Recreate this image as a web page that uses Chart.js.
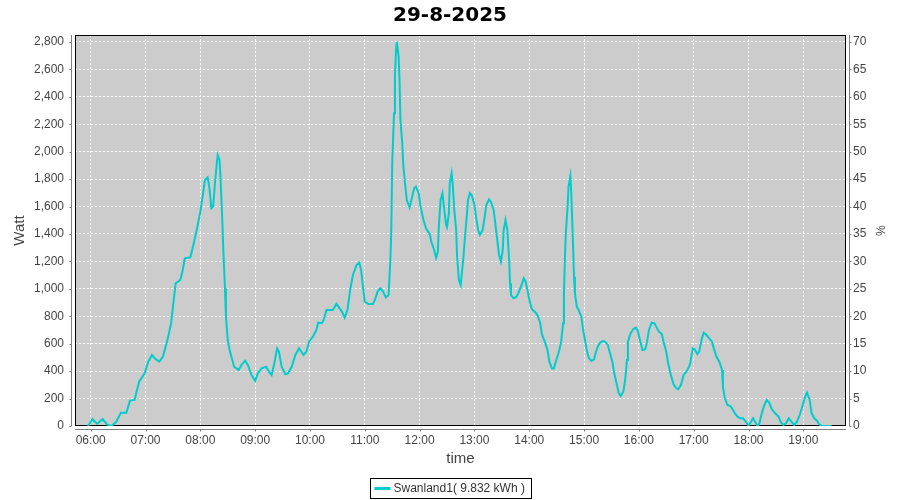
<!DOCTYPE html>
<html>
<head>
<meta charset="utf-8">
<title>29-8-2025</title>
<script src="https://cdn.jsdelivr.net/npm/chart.js@4.4.1/dist/chart.umd.min.js"></script>
<style>
  html, body { margin: 0; padding: 0; background: #fff; }
  canvas { display: block; }
</style>
</head>
<body>
<canvas id="chart" width="900" height="500"></canvas>
<script>
const chartTitle = '29-8-2025';
const seriesName = 'Swanland1( 9.832 kWh )';
const hourLabels = ['06:00', '07:00', '08:00', '09:00', '10:00', '11:00', '12:00',
    '13:00', '14:00', '15:00', '16:00', '17:00', '18:00', '19:00'];

const times = [
    '05:57', '06:02', '06:07', '06:13', '06:18', '06:23', '06:28', '06:33', '06:39', '06:43', '06:48', '06:53', '06:59',
    '07:03', '07:07', '07:10', '07:15', '07:19', '07:24', '07:28', '07:30', '07:33', '07:38', '07:40', '07:43', '07:49', '07:52', '07:56',
    '08:00', '08:03', '08:05', '08:08', '08:10', '08:12', '08:14', '08:16', '08:18', '08:19', '08:21', '08:22', '08:24', '08:25', '08:27', '08:28',
    '08:30', '08:32', '08:34', '08:37', '08:42', '08:45', '08:49', '08:52', '08:56',
    '09:00', '09:03', '09:07', '09:12', '09:15', '09:18', '09:21', '09:24', '09:26', '09:29', '09:33', '09:36', '09:40', '09:44', '09:48', '09:53', '09:56', '09:59',
    '10:04', '10:07', '10:09', '10:13', '10:15', '10:18', '10:25', '10:29', '10:35', '10:38', '10:41', '10:44', '10:47', '10:51', '10:54', '10:56', '10:58',
    '11:00', '11:04', '11:09', '11:11', '11:14', '11:17', '11:20', '11:23', '11:26', '11:28', '11:29', '11:30', '11:32', '11:33', '11:34', '11:35', '11:37',
    '11:38', '11:39', '11:41', '11:42', '11:44', '11:46', '11:49', '11:51', '11:54', '11:56', '11:59',
    '12:01', '12:04', '12:07', '12:11', '12:13', '12:16', '12:18', '12:20', '12:21', '12:23', '12:25', '12:27', '12:29', '12:30', '12:32', '12:33', '12:35',
    '12:36', '12:38', '12:40', '12:41', '12:43', '12:45', '12:46', '12:48', '12:50', '12:52', '12:53', '12:55', '12:57',
    '13:00', '13:02', '13:04', '13:06', '13:09', '13:11', '13:13', '13:16', '13:18', '13:21', '13:23', '13:25', '13:27', '13:29', '13:31', '13:32', '13:34',
    '13:36', '13:38', '13:39', '13:40', '13:43', '13:46', '13:48', '13:51', '13:54', '13:56', '13:58',
    '14:01', '14:03', '14:06', '14:09', '14:12', '14:14', '14:17', '14:20', '14:22', '14:25', '14:27', '14:29', '14:32', '14:35', '14:37', '14:38', '14:39',
    '14:40', '14:42', '14:43', '14:45', '14:46', '14:47', '14:48', '14:49', '14:50', '14:52', '14:54', '14:57', '14:59',
    '15:01', '15:03', '15:05', '15:08', '15:11', '15:13', '15:15', '15:17', '15:20', '15:23', '15:26', '15:28', '15:31', '15:33', '15:36', '15:38', '15:40',
    '15:43', '15:45', '15:47', '15:48', '15:51', '15:54', '15:57', '15:59',
    '16:02', '16:04', '16:07', '16:09', '16:11', '16:14', '16:17', '16:20', '16:22', '16:25', '16:27', '16:30', '16:32', '16:35', '16:38', '16:41', '16:43',
    '16:46', '16:49', '16:52', '16:54', '16:56', '16:59',
    '17:01', '17:04', '17:06', '17:09', '17:11', '17:14', '17:17', '17:20', '17:22', '17:25', '17:28', '17:31', '17:32', '17:34', '17:37', '17:40', '17:42',
    '17:45', '17:48', '17:51', '17:54', '17:57',
    '18:00', '18:02', '18:05', '18:07', '18:10', '18:12', '18:14', '18:17', '18:20', '18:23', '18:25', '18:29', '18:33', '18:35', '18:38', '18:41', '18:44',
    '18:47', '18:50', '18:53', '18:56', '18:59',
    '19:02', '19:04', '19:07', '19:09', '19:12', '19:15', '19:17', '19:20', '19:31'
];

const watts = [
    0, 51, 15, 51, 10, 0, 32, 97, 97, 185, 190, 323, 384,
    469, 518, 494, 469, 505, 627, 749, 870, 1040, 1065, 1113, 1223, 1230, 1308, 1429,
    1563, 1697, 1794, 1813, 1733, 1588, 1600, 1770, 1915, 1976, 1940, 1818, 1502, 1308, 1000, 800,
    627, 554, 505, 432, 408, 445, 476, 445, 372,
    330, 384, 420, 432, 396, 372, 457, 566, 542, 432, 377, 384, 432, 518, 566, 518, 542, 615,
    660, 700, 753, 749, 773, 846, 846, 890, 834, 790, 846, 992, 1101, 1174, 1191, 1137, 1016,
    906, 890, 890, 919, 980, 1004, 980, 938, 955, 1210, 1429, 1915, 2280, 2547, 2717, 2802, 2693,
    2523, 2231, 2061, 1915, 1770, 1648, 1594, 1648, 1733, 1745, 1697,
    1599, 1507, 1441, 1400, 1340, 1283, 1225, 1271, 1453, 1648, 1697, 1575, 1466, 1449, 1551, 1770, 1843,
    1782, 1575, 1429, 1235, 1065, 1028, 1101, 1235, 1405, 1563, 1648, 1697, 1684,
    1611, 1514, 1429, 1393, 1429, 1514, 1611, 1653, 1636, 1575, 1466, 1356, 1247, 1198, 1283, 1429, 1502,
    1429, 1210, 1040, 955, 931, 943, 968, 1016, 1077, 1052, 992,
    895, 851, 834, 809, 749, 664, 615, 554, 469, 420, 420, 469, 530, 615, 749, 968, 1210,
    1405, 1599, 1745, 1823, 1697, 1502, 1308, 1089, 968, 870, 846, 797, 700,
    627, 554, 498, 474, 486, 542, 578, 603, 620, 615, 591, 542, 469, 384, 299, 238, 219,
    250, 335, 481, 615, 676, 707, 717, 688,
    603, 554, 560, 615, 700, 753, 749, 712, 688, 671, 615, 542, 457, 372, 304, 275, 268,
    299, 372, 396, 420, 450, 566,
    559, 525, 542, 639, 680, 664, 639, 615, 566, 505, 469, 408, 287, 202, 153, 146, 129,
    93, 68, 56, 56, 32,
    2, 24, 56, 32, 0, 20, 80, 146, 190, 165, 129, 93, 68, 32, 7, 20, 56,
    32, 7, 32, 80, 146,
    214, 243, 190, 93, 56, 39, 15, 0, 0
];

// axis ranges (minutes since midnight / watt / percent)
const timeMin = 342.8;
const timeMax = 1186.7;
const wattMax = 2851;
const wattStep = 200;
const pctMax = wattMax / 40;
const pctStep = 5;

const toMinutes = t => {
    const [h, m] = t.split(':').map(Number);
    return h * 60 + m;
};
const fmtHour = v => String(Math.floor(v / 60)).padStart(2, '0') + ':' + String(Math.round(v % 60)).padStart(2, '0');

const points = times.map((t, i) => ({ x: toMinutes(t), y: watts[i] }));

const tickFont = { family: '"Liberation Sans", Arial, sans-serif', size: 12 };
const axisGrey = '#808080';
const labelGrey = '#444444';

// keep only round multiples of the step (drops the bound tick at max)
const keepSteps = step => scale => {
    scale.ticks = scale.ticks.filter(t => Math.abs(t.value / step - Math.round(t.value / step)) < 1e-6);
};

const plotFrame = {
    id: 'plotFrame',
    beforeDraw(chart) {
        const { ctx, chartArea: a } = chart;
        ctx.save();
        ctx.fillStyle = '#ffffff';
        ctx.fillRect(0, 0, chart.width, chart.height);
        ctx.fillStyle = '#cccccc';
        ctx.fillRect(a.left, a.top, a.right - a.left, a.bottom - a.top);
        ctx.restore();
    },
    beforeDatasetsDraw(chart) {
        const { ctx, chartArea: a } = chart;
        ctx.save();
        ctx.strokeStyle = '#000000';
        ctx.lineWidth = 1;
        ctx.strokeRect(a.left + 0.5, a.top + 0.5, a.right - a.left - 1, a.bottom - a.top - 1);
        ctx.restore();
    },
    afterDraw(chart) {
        const { ctx, chartArea: a, scales } = chart;
        ctx.save();
        ctx.strokeStyle = axisGrey;
        ctx.lineWidth = 1;
        ctx.beginPath();
        // left axis line + ticks
        const lx = a.left - 3.5;
        ctx.moveTo(lx, a.top); ctx.lineTo(lx, a.bottom);
        scales.y.ticks.forEach(t => {
            const py = Math.round(scales.y.getPixelForValue(t.value)) + 0.5;
            ctx.moveTo(lx - 2, py); ctx.lineTo(lx, py);
        });
        // right axis line + ticks
        const rx = a.right + 3.5;
        ctx.moveTo(rx, a.top); ctx.lineTo(rx, a.bottom);
        scales.y1.ticks.forEach(t => {
            const py = Math.round(scales.y1.getPixelForValue(t.value)) + 0.5;
            ctx.moveTo(rx, py); ctx.lineTo(rx + 2, py);
        });
        // bottom axis line + ticks
        const by = a.bottom + 3.5;
        ctx.moveTo(a.left, by); ctx.lineTo(a.right, by);
        scales.x.ticks.forEach(t => {
            const px = Math.round(scales.x.getPixelForValue(t.value)) + 0.5;
            ctx.moveTo(px, by); ctx.lineTo(px, by + 2);
        });
        ctx.stroke();

        // legend box
        ctx.font = '12px "Liberation Sans", Arial, sans-serif';
        const tw = ctx.measureText(seriesName).width;
        const boxW = Math.round(tw + 30);
        const boxH = 20;
        const bx = Math.round(chart.width / 2 - boxW / 2) + 0.5;
        const bY = chart.height - 22 + 0.5;
        ctx.strokeStyle = '#000000';
        ctx.strokeRect(bx, bY, boxW, boxH);
        ctx.strokeStyle = '#00cccc';
        ctx.lineWidth = 3;
        ctx.beginPath();
        ctx.moveTo(bx + 4, bY + 10);
        ctx.lineTo(bx + 20, bY + 10);
        ctx.stroke();
        ctx.fillStyle = '#333333';
        ctx.textBaseline = 'middle';
        ctx.textAlign = 'left';
        ctx.fillText(seriesName, bx + 23, bY + 10.5);
        ctx.restore();
    }
};

new Chart(document.getElementById('chart'), {
    type: 'line',
    data: {
        datasets: [{
            label: seriesName,
            data: points,
            borderColor: '#00cccc',
            borderWidth: 2,
            pointRadius: 0,
            tension: 0,
            fill: false,
            yAxisID: 'y'
        }]
    },
    options: {
        responsive: false,
        animation: false,
        layout: { padding: 0 },
        plugins: {
            legend: { display: false },
            tooltip: { enabled: false },
            title: {
                display: true,
                text: chartTitle,
                color: '#000000',
                font: { family: '"DejaVu Sans", sans-serif', size: 20, weight: 'bold', lineHeight: 1.2 },
                padding: { top: 4, bottom: 7 }
            }
        },
        scales: {
            x: {
                type: 'linear',
                bounds: 'data',
                min: timeMin,
                max: timeMax,
                afterBuildTicks: scale => {
                    scale.ticks = hourLabels.map(h => ({ value: toMinutes(h) }));
                },
                afterFit: scale => { scale.height = 74; },
                ticks: {
                    autoSkip: false,
                    maxRotation: 0,
                    padding: 7,
                    color: labelGrey,
                    font: tickFont,
                    callback: v => fmtHour(v)
                },
                grid: { color: '#ffffff', lineWidth: 1, drawTicks: false },
                border: { display: false, dash: [2, 2] },
                title: {
                    display: true,
                    text: 'time',
                    color: labelGrey,
                    font: { family: '"Liberation Sans", Arial, sans-serif', size: 15, lineHeight: 1.2 },
                    padding: { top: 0, bottom: 32 }
                }
            },
            y: {
                position: 'left',
                bounds: 'data',
                min: 0,
                max: wattMax,
                afterBuildTicks: keepSteps(wattStep),
                afterFit: scale => { scale.width = 75; },
                ticks: {
                    stepSize: wattStep,
                    includeBounds: false,
                    autoSkip: false,
                    padding: 11,
                    color: labelGrey,
                    font: tickFont
                },
                grid: { color: '#ffffff', lineWidth: 1, drawTicks: false },
                border: { display: false, dash: [2, 2] },
                title: {
                    display: true,
                    text: 'Watt',
                    color: labelGrey,
                    font: { family: '"Liberation Sans", Arial, sans-serif', size: 15, lineHeight: 1.2 },
                    padding: { top: 11, bottom: 0 }
                }
            },
            y1: {
                position: 'right',
                display: true,
                bounds: 'data',
                min: 0,
                max: pctMax,
                afterBuildTicks: keepSteps(pctStep),
                afterFit: scale => { scale.width = 54; },
                ticks: {
                    stepSize: pctStep,
                    includeBounds: false,
                    autoSkip: false,
                    padding: 7,
                    color: labelGrey,
                    font: tickFont
                },
                grid: { drawOnChartArea: false, drawTicks: false },
                border: { display: false },
                title: {
                    display: true,
                    text: '%',
                    color: labelGrey,
                    font: { family: '"Liberation Sans", Arial, sans-serif', size: 12, lineHeight: 1.2 },
                    padding: { top: 13, bottom: 0 }
                }
            }
        }
    },
    plugins: [plotFrame]
});
</script>
</body>
</html>
